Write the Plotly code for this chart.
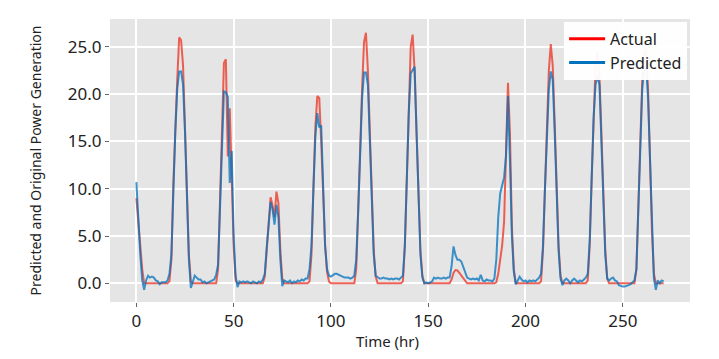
import plotly.graph_objects as go

hours = list(range(272))

actual = [
    9.0, 6.5, 4.3, 1.5, 0, 0, 0, 0, 0, 0, 0, 0,
    0, 0, 0, 0, 0, 0.2, 2.5, 10.5, 16.5, 21.5, 26.0, 25.7,
    23.0, 17.0, 9.5, 3.0, 0.2, 0, 0, 0, 0, 0, 0, 0,
    0, 0, 0, 0, 0, 0, 1.5, 8.0, 16.0, 23.3, 23.7, 13.4,
    18.5, 11.0, 4.0, 0.3, 0, 0, 0, 0, 0, 0, 0, 0,
    0, 0, 0, 0, 0, 0, 0.7, 3.5, 6.5, 9.1, 8.2, 7.0,
    9.7, 8.5, 3.5, 0.5, 0, 0, 0, 0, 0, 0, 0, 0,
    0, 0, 0, 0, 0, 0.2, 3.0, 10.0, 16.5, 19.8, 19.6, 15.0,
    9.0, 4.0, 1.2, 0.2, 0, 0, 0, 0, 0, 0, 0, 0,
    0, 0, 0, 0, 0, 1.5, 7.0, 14.0, 20.5, 25.5, 26.5, 22.5,
    16.0, 9.0, 3.5, 0.7, 0, 0, 0, 0, 0, 0, 0, 0,
    0, 0, 0, 0, 0, 0.2, 4.0, 11.0, 19.0, 25.0, 26.3, 22.5,
    16.0, 9.0, 3.5, 0.8, 0, 0, 0, 0, 0, 0, 0, 0,
    0, 0, 0, 0, 0, 0, 0.4, 1.1, 1.4, 1.35, 1.1, 0.8,
    0.5, 0.2, 0, 0, 0, 0, 0, 0, 0, 0, 0, 0,
    0, 0, 0, 0, 0, 0.1, 1.0, 2.5, 4.0, 6.5, 15.0, 21.2,
    16.0, 6.0, 1.5, 0, 0, 0, 0, 0, 0, 0, 0, 0,
    0, 0, 0, 0, 0.2, 3.5, 10.0, 17.0, 22.5, 25.3, 23.0, 17.0,
    10.0, 4.0, 0.8, 0, 0, 0, 0, 0, 0, 0, 0, 0,
    0, 0, 0, 0, 0.3, 4.0, 11.0, 18.0, 23.0, 24.5, 22.0, 16.0,
    9.0, 3.5, 0.5, 0, 0, 0, 0, 0, 0, 0, 0, 0,
    0, 0, 0, 0, 0, 1.5, 8.0, 15.5, 21.5, 24.5, 24.8, 20.5,
    13.0, 5.5, 1.0, 0, 0, 0, 0, 0,
]

predicted = [
    10.7, 6.5, 3.1, 0.3, -0.7, 0.3, 0.8, 0.6, 0.7, 0.6, 0.3, 0.2,
    -0.1, 0.1, 0.1, 0.1, 0.3, 1.0, 3.0, 10.0, 16.0, 20.5, 22.4, 22.4,
    21.0, 16.0, 9.0, 2.5, -0.5, 0.2, 0.8, 0.6, 0.4, 0.4, 0.1, 0.2,
    0.0, 0.1, 0.2, 0.3, 0.4, 0.9, 2.0, 8.0, 15.5, 20.3, 20.2, 19.7,
    10.6, 14.0, 5.0, 0.8, -0.4, 0.2, 0.1, 0.2, 0.1, 0.2, 0.1, 0.0,
    0.2, 0.1, 0.0, 0.2, 0.1, 0.4, 1.0, 3.8, 6.5, 8.6, 7.8, 6.2,
    8.3, 7.0, 2.5, -0.3, 0.3, 0.2, 0.1, 0.3, 0.0, 0.2, 0.1, 0.3,
    0.2, 0.4, 0.3, 0.5, 0.5, 1.5, 4.0, 10.0, 15.5, 18.0, 16.5, 16.7,
    9.5, 4.0, 1.5, 0.8, 0.7, 0.9, 1.0, 1.0, 0.9, 0.8, 0.7, 0.6,
    0.6, 0.6, 0.5, 0.6, 0.8, 2.5, 7.5, 14.0, 19.5, 22.3, 22.3, 21.0,
    15.0, 8.5, 3.0, 0.8, 0.6, 0.5, 0.5, 0.6, 0.5, 0.5, 0.4, 0.5,
    0.4, 0.5, 0.5, 0.4, 0.6, 0.8, 4.0, 11.0, 18.0, 22.2, 22.5, 22.9,
    16.0, 8.5, 3.0, 0.6, 0.0, 0.1, 0.0, 0.1, 0.2, 0.6, 0.5, 0.6,
    0.5, 0.5, 0.6, 0.5, 0.6, 0.6, 1.8, 3.9, 3.0, 2.5, 2.5, 2.3,
    1.8, 1.2, 0.6, 0.5, 0.4, 0.5, 0.4, 0.5, 0.3, 0.9, 0.3, 0.2,
    0.4, 0.3, 0.3, 0.2, 0.5, 2.5, 7.0, 9.5, 10.5, 11.2, 13.5, 19.8,
    13.0, 5.0, 1.2, -0.1, 0.3, 0.7, 0.4, 0.2, 0.3, 0.1, 0.3, 0.2,
    0.3, 0.2, 0.4, 0.6, 1.0, 4.0, 10.0, 16.5, 20.5, 22.4, 21.5, 16.0,
    9.5, 3.5, 0.5, -0.2, 0.3, 0.5, 0.3, 0.0, 0.3, 0.5, 0.3, 0.1,
    0.3, 0.2, 0.4, 0.6, 1.0, 4.5, 11.0, 17.5, 21.0, 21.9, 21.0, 15.5,
    8.5, 3.0, 0.5, 0.3, 0.5, 0.6, 0.3, 0.2, -0.2, -0.3, -0.35, -0.35,
    -0.3, -0.2, -0.1, 0.1, 0.3, 1.5, 7.5, 15.0, 20.5, 22.8, 23.0, 19.5,
    12.5, 5.0, 0.5, -0.7, 0.3, 0.0, 0.3, 0.2,
]

x_ticks = [0, 50, 100, 150, 200, 250]
y_ticks = [0, 5, 10, 15, 20, 25]
y_tick_labels = ["0.0", "5.0", "10.0", "15.0", "20.0", "25.0"]

FONT = "Noto Sans"
RED_LINE = "rgba(235,60,45,0.8)"
BLUE_LINE = "rgba(0,114,189,0.75)"

fig = go.Figure()
fig.add_trace(go.Scatter(x=hours[:len(actual)], y=actual, mode="lines",
                         line=dict(color=RED_LINE, width=2), showlegend=False,
                         name="Actual"))
fig.add_trace(go.Scatter(x=hours[:len(predicted)], y=predicted, mode="lines",
                         line=dict(color=BLUE_LINE, width=2), showlegend=False,
                         name="Predicted"))
# legend entries (opaque, as in the reference)
fig.add_trace(go.Scatter(x=[None], y=[None], mode="lines", name="Actual",
                         line=dict(color="#ff0000", width=3)))
fig.add_trace(go.Scatter(x=[None], y=[None], mode="lines", name="Predicted",
                         line=dict(color="#0072bd", width=3)))

# page body keeps its default 8px margin, so the figure is 8px smaller
fig.update_layout(
    width=711, height=351,
    margin=dict(l=102, r=29, t=11, b=57),
    paper_bgcolor="white",
    plot_bgcolor="#e5e5e5",
    font=dict(family=FONT, color="#222222", size=15),
    legend=dict(x=0.995, y=0.99, xanchor="right", yanchor="top",
                bgcolor="rgba(255,255,255,0.95)", borderwidth=0,
                font=dict(size=16, color="#222222"), itemwidth=36,
                tracegroupgap=0),
    annotations=[dict(text="Time (hr)", xref="paper", yref="paper",
                      x=0.478, y=-0.095, xanchor="center", yanchor="top",
                      showarrow=False, font=dict(size=15, family=FONT,
                                                 color="#222222"))],
)
fig.update_xaxes(
    range=[-13.55, 284.55], tickvals=x_ticks, showgrid=True, automargin=False,
    gridcolor="white", gridwidth=1.5, zeroline=False,
    ticks="outside", ticklen=4, tickcolor="#666666",
    tickfont=dict(size=17, family=FONT, color="#222222"),
)
fig.update_yaxes(
    range=[-1.98, 27.95], tickvals=y_ticks, ticktext=y_tick_labels,
    showgrid=True, automargin=False,
    gridcolor="white", gridwidth=1.5, zeroline=False,
    ticks="outside", ticklen=4, tickcolor="#666666",
    tickfont=dict(size=17, family=FONT, color="#222222"),
    title=dict(text="Predicted and Original Power Generation",
               font=dict(size=14, family=FONT), standoff=22),
)

fig.write_html("out.html")
